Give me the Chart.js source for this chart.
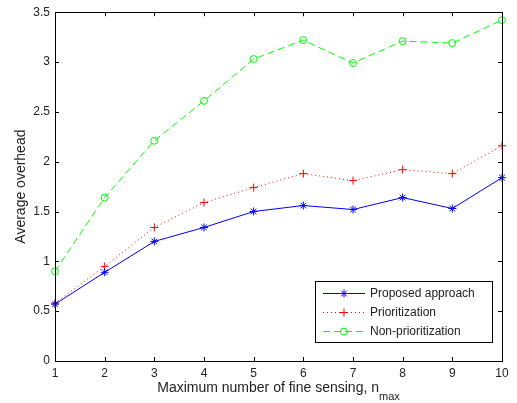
<!DOCTYPE html>
<html>
<head>
<meta charset="utf-8">
<script src="https://cdn.jsdelivr.net/npm/chart.js"></script>
<style>
  body { margin: 0; background: #fff; }
</style>
</head>
<body>
<canvas id="myChart" width="517" height="403"></canvas>
<script>
// values
const nMax = [1, 2, 3, 4, 5, 6, 7, 8, 9, 10];
const proposed = [0.57, 0.89, 1.2, 1.34, 1.5, 1.56, 1.52, 1.64, 1.53, 1.84];
const prioritization = [0.58, 0.95, 1.34, 1.59, 1.74, 1.88, 1.81, 1.92, 1.88, 2.16];
const nonPrioritization = [0.9, 1.64, 2.21, 2.61, 3.03, 3.22, 2.99, 3.21, 3.19, 3.42];
const seriesNames = ['Proposed approach', 'Prioritization', 'Non-prioritization'];
const yTicks = [0, 0.5, 1, 1.5, 2, 2.5, 3, 3.5];

const FAMILY = '"Liberation Sans", Arial, sans-serif';
const FONT = '12px ' + FAMILY;
const TITLE_FONT = '14px ' + FAMILY;
const TXT = '#222';

function pts(ys) {
    return nMax.map((x, i) => ({ x: x, y: ys[i] }));
}

// box, inward ticks, legend and axis titles (matlab look)
const matlabAxes = {
    id: 'matlabAxes',
    afterDraw(chart) {
        const ctx = chart.ctx;
        const a = chart.chartArea;
        const xs = chart.scales.x;
        const ys = chart.scales.y;
        const tl = 4;

        ctx.save();
        ctx.strokeStyle = '#000';
        ctx.lineWidth = 1;
        ctx.strokeRect(Math.round(a.left) + 0.5, Math.round(a.top) + 0.5,
            Math.round(a.right - a.left), Math.round(a.bottom - a.top));

        ctx.beginPath();
        nMax.forEach(v => {
            const px = Math.round(xs.getPixelForValue(v)) + 0.5;
            ctx.moveTo(px, a.bottom); ctx.lineTo(px, a.bottom - tl);
            ctx.moveTo(px, a.top); ctx.lineTo(px, a.top + tl);
        });
        yTicks.forEach(v => {
            const py = Math.round(ys.getPixelForValue(v)) + 0.5;
            ctx.moveTo(a.left, py); ctx.lineTo(a.left + tl, py);
            ctx.moveTo(a.right, py); ctx.lineTo(a.right - tl, py);
        });
        ctx.stroke();

        // legend
        const lx = 315, ly = 281, lw = 177, lh = 61;
        ctx.fillStyle = '#fff';
        ctx.fillRect(lx, ly, lw, lh);
        ctx.strokeStyle = '#000';
        ctx.strokeRect(lx + 0.5, ly + 0.5, lw, lh);

        chart.data.datasets.forEach((ds, i) => {
            const ry = ly + 12 + i * 19;
            ctx.save();
            ctx.strokeStyle = ds.borderColor;
            ctx.fillStyle = ds.backgroundColor;
            ctx.lineWidth = 1;
            ctx.setLineDash(ds.borderDash || []);
            ctx.beginPath();
            ctx.moveTo(323, ry + 0.5);
            ctx.lineTo(365, ry + 0.5);
            ctx.stroke();
            ctx.setLineDash([]);
            Chart.helpers.drawPoint(ctx, {
                pointStyle: ds.pointStyle,
                radius: ds.pointRadius,
                borderWidth: 1,
                rotation: 0
            }, 344, ry + 0.5);
            ctx.restore();
            ctx.fillStyle = TXT;
            ctx.font = FONT;
            ctx.textBaseline = 'middle';
            ctx.textAlign = 'left';
            ctx.fillText(ds.label, 370, ry + 1);
        });

        // x title with subscript
        ctx.fillStyle = TXT;
        ctx.textBaseline = 'middle';
        ctx.textAlign = 'left';
        const main = 'Maximum number of fine sensing, n';
        const sub = 'max';
        const subFont = '11px ' + FAMILY;
        ctx.font = TITLE_FONT;
        const w1 = ctx.measureText(main).width;
        ctx.font = subFont;
        const w2 = ctx.measureText(sub).width;
        const sx = (a.left + a.right) / 2 - (w1 + w2) / 2;
        ctx.font = TITLE_FONT;
        ctx.fillText(main, sx, 388);
        ctx.font = subFont;
        ctx.fillText(sub, sx + w1, 397);

        // y title
        ctx.font = TITLE_FONT;
        ctx.translate(21, (a.top + a.bottom) / 2);
        ctx.rotate(-Math.PI / 2);
        ctx.textAlign = 'center';
        ctx.fillText('Average overhead', 0, 0);
        ctx.restore();
    }
};

function createGraph() {
    const ctx = document.getElementById('myChart');

    new Chart(ctx, {
        type: 'line',
        data: {
            datasets: [{
                label: seriesNames[0],
                data: pts(proposed),
                borderColor: '#0000ff',
                backgroundColor: '#0000ff',
                borderWidth: 1,
                pointStyle: 'star',
                pointRadius: 4,
                pointBorderWidth: 1,
                clip: false
            }, {
                label: seriesNames[1],
                data: pts(prioritization),
                borderColor: '#ff0000',
                backgroundColor: '#ff0000',
                borderWidth: 1,
                borderDash: [1, 3],
                pointStyle: 'cross',
                pointRadius: 4,
                pointBorderWidth: 1,
                clip: false
            }, {
                label: seriesNames[2],
                data: pts(nonPrioritization),
                borderColor: '#00ff00',
                backgroundColor: 'rgba(0,0,0,0)',
                borderWidth: 1,
                borderDash: [7, 4],
                pointStyle: 'circle',
                pointRadius: 3.5,
                pointBorderWidth: 1,
                clip: false
            }]
        },
        options: {
            responsive: false,
            animation: false,
            layout: { padding: { left: 0, right: 15, top: 12, bottom: 0 } },
            plugins: {
                legend: { display: false },
                tooltip: { enabled: false }
            },
            scales: {
                x: {
                    type: 'linear',
                    min: 1,
                    max: 10,
                    grid: { display: false, drawTicks: false },
                    border: { display: false },
                    ticks: {
                        stepSize: 1,
                        padding: 5,
                        color: TXT,
                        font: { family: FAMILY, size: 12 }
                    },
                    afterFit: s => { s.height = 42; }
                },
                y: {
                    min: 0,
                    max: 3.5,
                    grid: { display: false, drawTicks: false },
                    border: { display: false },
                    ticks: {
                        stepSize: 0.5,
                        padding: 5,
                        color: TXT,
                        font: { family: FAMILY, size: 12 },
                        callback: v => String(v)
                    },
                    afterFit: s => { s.width = 55; }
                }
            }
        },
        plugins: [matlabAxes]
    });
}

createGraph();
</script>
</body>
</html>
